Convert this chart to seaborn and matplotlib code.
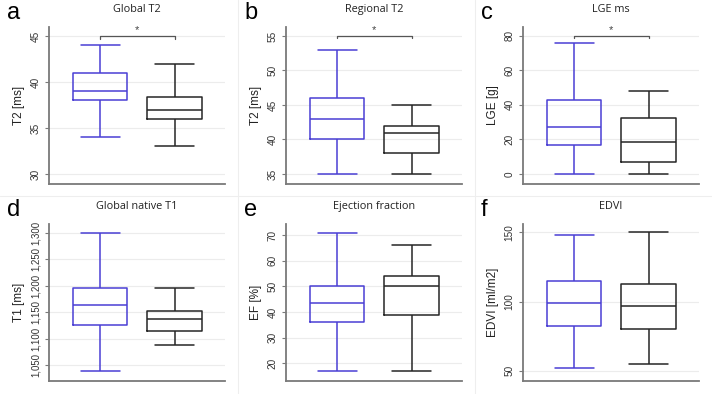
import numpy as np
import pandas as pd
import matplotlib
matplotlib.use("Agg")
import matplotlib.pyplot as plt
from matplotlib.ticker import FuncFormatter
from matplotlib.lines import Line2D
import seaborn as sns

# ---------------- data (five-number summaries) -------------
groups = ["Patients", "Controls"]

global_t2_patients = [34, 38, 39, 41, 44]
global_t2_controls = [33, 36, 37, 38.4, 42]

regional_t2_patients = [35, 40, 43, 46, 53]
regional_t2_controls = [35, 38, 41, 41.9, 45]

lge_patients = [0, 17, 27, 43, 76]
lge_controls = [0, 7, 18.3, 32.2, 48]

t1_patients = [1038, 1125, 1163, 1195, 1300]
t1_controls = [1089, 1115, 1137, 1152, 1195]

ef_patients = [17, 36, 43.4, 50, 71]
ef_controls = [17, 39, 50, 54, 66]

edvi_patients = [52, 82, 99, 114.5, 148]
edvi_controls = [55, 80, 97, 112.5, 150]

panel_letters = ["a", "b", "c", "d", "e", "f"]
titles = ["Global T2", "Regional T2", "LGE ms", "Global native T1",
          "Ejection fraction", "EDVI"]
ylabels = ["T2 [ms]", "T2 [ms]", "LGE [g]", "T1 [ms]", "EF [%]", "EDVI [ml/m2]"]
yticks = [[30, 35, 40, 45], [35, 40, 45, 50, 55], [0, 20, 40, 60, 80],
          [1050, 1100, 1150, 1200, 1250, 1300], [20, 30, 40, 50, 60, 70],
          [50, 100, 150]]
significant = [True, True, True, False, False, False]
# ---------------------------------------------------------------------------------

series = [
    (global_t2_patients, global_t2_controls),
    (regional_t2_patients, regional_t2_controls),
    (lge_patients, lge_controls),
    (t1_patients, t1_controls),
    (ef_patients, ef_controls),
    (edvi_patients, edvi_controls),
]
ylims = [(28.9, 46.0), (33.55, 56.3), (-5.8, 85.0), (1020, 1317), (13.0, 74.4),
         (42.6, 156.0)]

sns.set_style("white")
plt.rcParams["font.family"] = ["Liberation Sans", "DejaVu Sans"]

BLUE = "#4a3fd4"
BLACK = "#262626"
SPINE = "#7a7a7a"
palette = {groups[0]: BLUE, groups[1]: BLACK}

W, H = 712, 394
fig = plt.figure(figsize=(W / 100, H / 100), dpi=100)

lefts = [49, 286, 523]
tops = [27, 224]
aw, ah = 176, 157

for i in range(6):
    r, c = divmod(i, 3)
    l = lefts[c]
    t = tops[r]
    ax = fig.add_axes([l / W, 1 - (t + ah) / H, aw / W, ah / H])
    p, q = series[i]
    df = pd.DataFrame({
        "group": [groups[0]] * len(p) + [groups[1]] * len(q),
        "value": list(p) + list(q),
    })
    sns.boxplot(data=df, x="group", y="value", hue="group", palette=palette,
                fill=False, width=0.73, whis=(0, 100), linewidth=1.1,
                legend=False, ax=ax, capwidths=0.52, order=groups,
                hue_order=groups)
    ax.set_xlim(-0.69, 1.68)
    ax.set_ylim(*ylims[i])
    ax.set_yticks(yticks[i])
    if i == 3:
        ax.yaxis.set_major_formatter(FuncFormatter(lambda v, _: f"{v:,.0f}"))
    ax.set_xticks([])
    ax.set_xlabel("")
    ax.set_ylabel(ylabels[i], fontsize=8.5, color="#222222", labelpad=4)
    ax.grid(axis="y", color="#ececec", linewidth=0.8)
    ax.set_axisbelow(True)
    for s in ["top", "right"]:
        ax.spines[s].set_visible(False)
    for s in ["left", "bottom"]:
        ax.spines[s].set_color(SPINE)
        ax.spines[s].set_linewidth(1.3)
    ax.tick_params(axis="y", left=True, length=3, width=0.8, color=SPINE,
                   labelsize=7.2 if i != 3 else 6.9, labelcolor="#333333",
                   pad=3, labelrotation=90)
    for lab in ax.get_yticklabels():
        lab.set_va("center")
    ax.set_title(titles[i], fontsize=7.8, family=["Open Sans", "DejaVu Sans"],
                 color="#222222", pad=11)
    fig.text((l - 42) / W, 1 - (t - 14) / H, panel_letters[i], fontsize=17,
             ha="left", va="center", color="black")
    if significant[i]:
        top = yticks[i][-1]
        span = ylims[i][1] - ylims[i][0]
        d = span * 0.016
        ax.plot([0, 0, 1, 1], [top - d, top, top, top - d], color="#555555",
                linewidth=0.9)
        ax.text(0.5, top + span * 0.004, "*", ha="center", va="bottom",
                fontsize=8, color="#444444")

# faint panel separators
for x in [238, 475]:
    fig.add_artist(Line2D([x / W, x / W], [0, 1], color="#eeeeee", linewidth=0.8))
fig.add_artist(Line2D([0, 1], [1 - 196 / H, 1 - 196 / H], color="#eeeeee",
                      linewidth=0.8))

fig.savefig("out.png", dpi=100)
